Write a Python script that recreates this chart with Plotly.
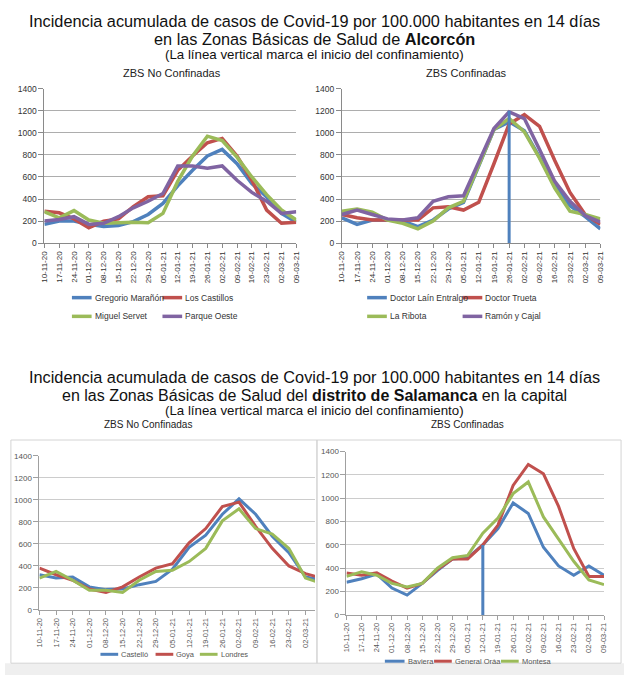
import plotly.graph_objects as go

W, H = 629, 680

dates = ["10-11-20", "17-11-20", "24-11-20", "01-12-20", "08-12-20", "15-12-20",
         "22-12-20", "29-12-20", "05-01-21", "12-01-21", "19-01-21", "26-01-21",
         "02-02-21", "09-02-21", "16-02-21", "23-02-21", "02-03-21", "09-03-21"]

# Alcorcón - ZBS No Confinadas
gregorio_maranon = [170, 200, 200, 170, 150, 160, 195, 260, 360, 520, 660, 790, 850, 720, 540, 420, 270, 190]
los_castillos = [290, 275, 220, 140, 200, 220, 330, 420, 430, 660, 790, 910, 950, 790, 570, 300, 180, 190]
miguel_servet = [285, 230, 295, 210, 180, 185, 190, 185, 270, 560, 790, 970, 930, 780, 600, 440, 300, 210]
parque_oeste = [200, 215, 240, 170, 180, 240, 320, 380, 450, 700, 700, 680, 700, 570, 460, 380, 270, 285]

# Alcorcón - ZBS Confinadas
doctor_lain_entralgo = [230, 170, 210, 210, 200, 150, 210, 310, 370, 700, 1030, 1100, 1020, 780, 520, 340, 240, 130]
doctor_trueta = [260, 230, 210, 210, 210, 210, 320, 330, 300, 370, 720, 1080, 1165, 1060, 750, 460, 260, 170]
la_ribota = [290, 310, 280, 210, 180, 130, 200, 320, 380, 710, 1030, 1130, 1010, 770, 500, 290, 260, 220]
ramon_y_cajal = [260, 300, 260, 220, 210, 230, 380, 420, 430, 730, 1040, 1190, 1130, 850, 560, 380, 250, 190]
alcorcon_confinement = ["26-01-21", 1200]

# Salamanca - ZBS No Confinadas
castello = [320, 290, 300, 210, 185, 190, 230, 260, 370, 570, 680, 870, 1010, 870, 670, 520, 300, 270]
goya = [380, 320, 270, 190, 160, 210, 300, 380, 420, 610, 740, 940, 980, 760, 560, 400, 330, 290]
londres = [290, 350, 270, 180, 180, 160, 270, 350, 360, 440, 560, 810, 920, 740, 690, 560, 290, 240]

# Salamanca - ZBS Confinadas
baviera = [280, 310, 350, 230, 170, 270, 380, 480, 490, 600, 740, 960, 870, 580, 420, 340, 420, 340]
general_oraa = [360, 340, 360, 290, 230, 270, 390, 480, 480, 600, 770, 1110, 1290, 1210, 930, 570, 330, 330]
montesa = [330, 370, 340, 270, 240, 270, 400, 490, 510, 700, 830, 1040, 1140, 840, 650, 460, 300, 260]
salamanca_confinement = ["12-01-21", 600]

y_ticks = [0, 200, 400, 600, 800, 1000, 1200, 1400]

BLUE, RED, GREEN, PURPLE = "#4F81BD", "#C0504D", "#9BBB59", "#8064A2"


def px(x):
    return x / W


def py(y):
    return 1 - y / H


fig = go.Figure()

panels = [
    ("", [(gregorio_maranon, "Gregorio Marañón", BLUE), (los_castillos, "Los Castillos", RED),
          (miguel_servet, "Miguel Servet", GREEN), (parque_oeste, "Parque Oeste", PURPLE)], 3.5),
    ("2", [(doctor_lain_entralgo, "Doctor Laín Entralgo", BLUE), (doctor_trueta, "Doctor Trueta", RED),
           (la_ribota, "La Ribota", GREEN), (ramon_y_cajal, "Ramón y Cajal", PURPLE)], 3.5),
    ("3", [(castello, "Castelló", BLUE), (goya, "Goya", RED), (londres, "Londres", GREEN)], 3),
    ("4", [(baviera, "Baviera", BLUE), (general_oraa, "General Oráa", RED), (montesa, "Montesa", GREEN)], 3),
]

for suffix, series, lw in panels:
    for vals, name, col in series:
        fig.add_trace(go.Scatter(x=dates, y=vals, name=name, mode="lines",
                                 line=dict(color=col, width=lw),
                                 xaxis="x" + suffix, yaxis="y" + suffix,
                                 showlegend=False))

# confinement lines
fig.add_trace(go.Scatter(x=[alcorcon_confinement[0]] * 2, y=[0, alcorcon_confinement[1]],
                         mode="lines", line=dict(color=BLUE, width=3),
                         xaxis="x2", yaxis="y2", showlegend=False))
fig.add_trace(go.Scatter(x=[salamanca_confinement[0]] * 2, y=[0, salamanca_confinement[1]],
                         mode="lines", line=dict(color=BLUE, width=3),
                         xaxis="x4", yaxis="y4", showlegend=False))


def xax(domain, rng, anchor, fontcol, size, linecol):
    return dict(domain=domain, range=rng, anchor=anchor, type="category",
                categoryorder="array", categoryarray=dates,
                tickangle=-90, tickfont=dict(family="Liberation Sans", size=size, color=fontcol),
                showgrid=False, showline=True, linecolor=linecol, linewidth=1,
                ticks="outside", ticklen=4, tickcolor=linecol, zeroline=False, fixedrange=True)


def yax(domain, anchor, fontcol, size, gridcol, linecol):
    return dict(domain=domain, range=[0, 1400], anchor=anchor, tickvals=y_ticks,
                tickfont=dict(family="Liberation Sans", size=size, color=fontcol),
                showgrid=True, gridcolor=gridcol, gridwidth=1, showline=True,
                linecolor=linecol, linewidth=1, ticks="outside", ticklen=5,
                tickcolor=linecol, zeroline=False, fixedrange=True)


fig.update_layout(
    width=W, height=H, margin=dict(l=0, r=0, t=0, b=0),
    paper_bgcolor="white", plot_bgcolor="rgba(0,0,0,0)",
    showlegend=False, hovermode=False,
    xaxis=xax([px(40), px(296)], [0, 17], "y", "#333", 8, "#8a8a8a"),
    yaxis=yax([py(241.7), py(85)], "x", "#333", 8.5, "#adadad", "#8a8a8a"),
    xaxis2=xax([px(342.3), px(605)], [0, 17], "y2", "#333", 8, "#8a8a8a"),
    yaxis2=yax([py(241.7), py(85)], "x2", "#333", 8.5, "#adadad", "#8a8a8a"),
    xaxis3=xax([px(35), px(315)], [0, 16.57], "y3", "#555", 7.5, "#a0a0a0"),
    yaxis3=yax([py(614), py(457.7)], "x3", "#555", 8, "#cccccc", "#a0a0a0"),
    xaxis4=xax([px(347), px(608.7)], [0, 17], "y4", "#555", 7.5, "#a0a0a0"),
    yaxis4=yax([py(619), py(453.3)], "x4", "#555", 8, "#cccccc", "#a0a0a0"),
)

shapes = []
annotations = []

# frames of the lower charts and bottom strip
shapes.append(dict(type="rect", xref="paper", yref="paper", x0=px(0), x1=px(629), y0=py(680), y1=py(668),
                   fillcolor="#efefef", line=dict(width=0), layer="below"))
shapes.append(dict(type="rect", xref="paper", yref="paper", x0=px(6), x1=px(317), y0=py(668), y1=py(441.5),
                   fillcolor="rgba(0,0,0,0)", line=dict(color="#d4d4d4", width=1), layer="below"))
shapes.append(dict(type="rect", xref="paper", yref="paper", x0=px(317), x1=px(626), y0=py(668), y1=py(441.5),
                   fillcolor="rgba(0,0,0,0)", line=dict(color="#d4d4d4", width=1), layer="below"))


def text(x, y, t, size, family="Liberation Sans", color="#111", anchor="center"):
    annotations.append(dict(xref="paper", yref="paper", x=px(x), y=py(y), text=t, showarrow=False,
                            xanchor=anchor, yanchor="middle",
                            font=dict(family=family, size=size, color=color)))


# titles
text(314, 16, "Incidencia acumulada de casos de Covid-19 por 100.000 habitantes en 14 días", 16.3)
text(314, 34, "en las Zonas Básicas de Salud de <b>Alcorcón</b>", 16.3)
text(314, 50, "(La línea vertical marca el inicio del confinamiento)", 13.3)
text(170, 69, "ZBS No Confinadas", 11, color="#222")
text(469, 69, "ZBS Confinadas", 11, color="#222")

text(314, 378, "Incidencia acumulada de casos de Covid-19 por 100.000 habitantes en 14 días", 16.3)
text(314, 396, "en las Zonas Básicas de Salud del <b>distrito de Salamanca</b> en la capital", 16)
text(314, 412, "(La línea vertical marca el inicio del confinamiento)", 13.3)
text(145, 426, "ZBS No Confinadas", 10, color="#222")
text(470, 426, "ZBS Confinadas", 10, color="#222")


def legend_item(x, y, name, col, size=8.5, lw=3.5, seg=20, color="#333"):
    shapes.append(dict(type="line", xref="paper", yref="paper", x0=px(x), x1=px(x + seg),
                       y0=py(y), y1=py(y), line=dict(color=col, width=lw)))
    text(x + seg + 1, y, name, size, color=color, anchor="left")


legend_item(68, 297, "Gregorio Marañón", BLUE)
legend_item(160, 297, "Los Castillos", RED)
legend_item(68, 316, "Miguel Servet", GREEN)
legend_item(160, 316, "Parque Oeste", PURPLE)

legend_item(368, 297, "Doctor Laín Entralgo", BLUE)
legend_item(465, 297, "Doctor Trueta", RED)
legend_item(368, 316, "La Ribota", GREEN)
legend_item(465, 316, "Ramón y Cajal", PURPLE)

legend_item(97, 659, "Castelló", BLUE, size=7.5, lw=3, seg=18, color="#555")
legend_item(153, 659, "Goya", RED, size=7.5, lw=3, seg=18, color="#555")
legend_item(198, 659, "Londres", GREEN, size=7.5, lw=3, seg=18, color="#555")

legend_item(386, 666, "Baviera", BLUE, size=7.5, lw=3, seg=20, color="#555")
legend_item(436, 666, "General Oráa", RED, size=7.5, lw=3, seg=18, color="#555")
legend_item(504, 666, "Montesa", GREEN, size=7.5, lw=3, seg=18, color="#555")

fig.update_layout(shapes=shapes, annotations=annotations)

fig.write_html("out.html", config={"displayModeBar": False},
               post_script="document.body.style.margin='0';")
